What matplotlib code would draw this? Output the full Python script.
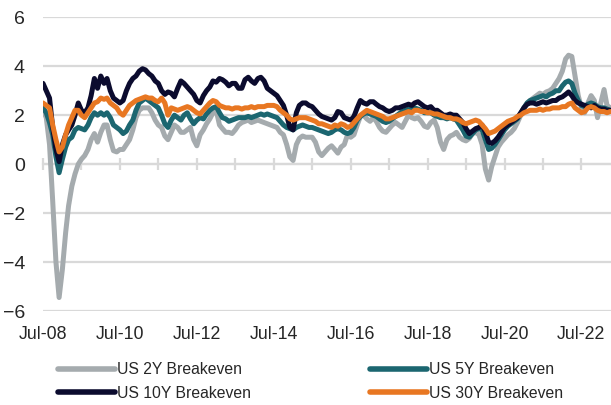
import matplotlib
matplotlib.use("Agg")
import matplotlib.dates as mdates
import matplotlib.pyplot as plt
import matplotlib.ticker as mticker
import numpy as np
import pandas as pd

# monthly readings, Jul-08 .. Apr-23 (one row per Jul..Jun year)
be_2y = [
    2.2, 1.9, 0.8, -1.5, -4.0, -5.45, -4.3, -2.8, -1.7, -0.9, -0.4, 0.0,
    0.2, 0.35, 0.6, 1.0, 1.25, 0.9, 1.3, 1.6, 1.6, 1.0, 0.55, 0.5,
    0.6, 0.6, 0.8, 1.0, 1.4, 1.9, 2.2, 2.3, 2.3, 2.3, 2.1, 1.8,
    1.6, 1.5, 1.15, 1.0, 1.3, 1.6, 1.5, 1.3, 1.3, 1.4, 1.5, 1.0,
    0.75, 1.2, 1.4, 1.65, 1.85, 2.1, 2.2, 1.6, 1.45, 1.3, 1.3, 1.25,
    1.4, 1.6, 1.7, 1.75, 1.8, 1.7, 1.75, 1.8, 1.75, 1.7, 1.65, 1.6,
    1.55, 1.5, 1.3, 1.2, 0.8, 0.3, 0.15, 0.8, 1.05, 1.15, 1.1, 1.1,
    1.1, 0.9, 0.5, 0.35, 0.5, 0.65, 0.75, 0.6, 0.45, 0.7, 0.8, 1.2,
    1.1, 1.2, 1.6, 1.95, 2.0, 1.85, 1.75, 1.9, 1.75, 1.5, 1.35, 1.3,
    1.45, 1.6, 1.7, 1.6, 1.5, 1.75, 2.0, 1.9, 1.85, 1.9, 1.75, 1.55,
    1.5, 1.7, 1.8, 1.5, 0.9, 0.6, 1.0, 1.15, 1.2, 1.3, 1.1, 1.0,
    0.95, 1.05, 1.25, 1.3, 1.2, 0.8, -0.2, -0.65, -0.1, 0.3, 0.7, 0.9,
    1.05, 1.2, 1.3, 1.45, 1.7, 2.0, 2.3, 2.5, 2.6, 2.7, 2.8, 2.9,
    2.85, 2.95, 3.0, 3.1, 3.3, 3.5, 3.8, 4.3, 4.45, 4.4, 3.6, 2.8,
    2.3, 2.1, 2.5, 2.8, 2.6, 1.9, 2.5, 3.05, 2.4, 2.3,
]
be_5y = [
    2.3, 2.1, 1.7, 1.2, 0.3, -0.35, 0.2, 0.7, 1.0, 1.1, 1.4, 1.5,
    1.45, 1.4, 1.6, 1.9, 2.1, 2.0, 2.1, 2.0, 2.1, 1.9, 1.6, 1.5,
    1.4, 1.25, 1.35, 1.6, 1.8, 2.2, 2.5, 2.6, 2.7, 2.6, 2.5, 2.4,
    2.3, 2.0, 1.65, 1.5, 1.8, 2.0, 1.9, 1.8, 2.0, 2.1, 1.85, 1.65,
    1.8, 1.9, 1.85, 2.05, 2.2, 2.3, 2.35, 2.1, 1.9, 1.85, 1.75, 1.8,
    1.85, 1.9, 1.9, 1.9, 1.95, 1.9, 1.95, 2.0, 2.05, 2.0, 2.05, 2.0,
    1.95, 1.9, 1.75, 1.6, 1.5, 1.45, 1.4, 1.5, 1.55, 1.6, 1.55, 1.5,
    1.5, 1.45, 1.4, 1.35, 1.3, 1.25, 1.3, 1.4, 1.45, 1.4, 1.3, 1.25,
    1.3, 1.5, 1.8, 1.95, 2.05, 2.1, 2.05, 2.0, 1.95, 1.85, 1.75, 1.7,
    1.75, 1.85, 1.95, 2.05, 2.15, 2.2, 2.25, 2.3, 2.3, 2.25, 2.2, 2.1,
    2.1, 2.1, 2.0, 1.95, 1.9, 1.9, 1.85, 1.9, 1.85, 1.8, 1.6, 1.4,
    1.15, 1.1, 1.25, 1.4, 1.45, 1.4, 1.0, 0.6, 0.65, 0.8, 1.0, 1.2,
    1.4, 1.55, 1.65, 1.75, 1.85, 2.05, 2.3, 2.5, 2.6, 2.65, 2.7, 2.75,
    2.8, 2.75, 2.85, 2.9, 3.0, 3.0, 3.2, 3.35, 3.4, 3.3, 2.9, 2.6,
    2.4, 2.35, 2.45, 2.5, 2.45, 2.35, 2.3, 2.3, 2.25, 2.2,
]
be_10y = [
    3.3, 3.0, 2.7, 1.5, 0.6, 0.1, 0.8, 1.2, 1.4, 1.6, 2.0, 2.5,
    2.2, 2.1, 2.3, 2.8, 3.5, 3.1, 3.6, 3.3, 3.5, 3.0, 2.7, 2.6,
    2.5, 2.6, 3.0, 3.3, 3.5, 3.6, 3.8, 3.9, 3.85, 3.7, 3.6, 3.4,
    3.3, 3.0, 2.85, 2.95, 2.9, 2.75, 3.1, 3.4, 3.3, 3.15, 3.0, 2.85,
    2.6, 2.5, 2.8, 3.0, 3.15, 3.4, 3.35, 3.5, 3.45, 3.35, 3.2, 3.3,
    3.3, 3.1, 3.1, 3.45, 3.55, 3.4, 3.3, 3.5, 3.55, 3.4, 3.1, 3.0,
    2.9, 2.8, 2.6, 2.4, 2.0, 1.5, 1.4, 2.1, 2.4, 2.5, 2.5, 2.4,
    2.35, 2.2, 2.05, 1.95, 1.9, 1.85, 1.8, 1.9, 2.15, 2.1, 1.9, 1.85,
    1.8, 1.95, 2.3, 2.6, 2.5, 2.45, 2.55, 2.55, 2.45, 2.35, 2.3, 2.2,
    2.15, 2.2, 2.3, 2.3, 2.35, 2.4, 2.45, 2.4, 2.5, 2.55, 2.45, 2.35,
    2.3, 2.35, 2.2, 2.2, 2.1, 2.0, 2.0, 2.05, 2.0, 2.0, 1.85, 1.7,
    1.45, 1.25, 1.35, 1.45, 1.5, 1.6, 1.3, 0.9, 0.85, 0.95, 1.1, 1.3,
    1.5, 1.6, 1.7, 1.8, 1.9, 2.1, 2.3, 2.45, 2.5, 2.5, 2.45, 2.5,
    2.55, 2.5, 2.55, 2.6, 2.6, 2.7, 2.75, 2.85, 2.95, 2.8, 2.6, 2.5,
    2.45, 2.4, 2.35, 2.3, 2.4, 2.3, 2.25, 2.25, 2.2, 2.2,
]
be_30y = [
    2.5, 2.4, 2.3, 1.6, 1.0, 0.5, 0.7, 1.2, 1.6, 1.9, 2.2, 2.2,
    2.0, 1.9, 2.1, 2.3, 2.5, 2.55, 2.7, 2.65, 2.7, 2.5, 2.4, 2.3,
    2.1, 2.0, 2.2, 2.4, 2.5, 2.6, 2.65, 2.7, 2.75, 2.7, 2.7, 2.6,
    2.55, 2.7, 2.5, 2.0, 2.3, 2.25, 2.2, 2.25, 2.3, 2.35, 2.3, 2.2,
    2.1, 2.05, 2.2, 2.35, 2.5, 2.6, 2.55, 2.4, 2.35, 2.3, 2.3, 2.25,
    2.3, 2.3, 2.25, 2.3, 2.3, 2.35, 2.3, 2.35, 2.35, 2.35, 2.4, 2.4,
    2.4, 2.35, 2.2, 2.1, 2.0, 1.85, 1.8, 1.85, 1.9, 1.9, 1.9, 1.85,
    1.8, 1.75, 1.65, 1.65, 1.6, 1.55, 1.5, 1.6, 1.55, 1.65, 1.6, 1.5,
    1.55, 1.7, 1.85, 2.0, 2.1, 2.2, 2.15, 2.1, 2.05, 2.0, 1.95, 1.85,
    1.85, 1.9, 1.95, 2.0, 2.05, 2.1, 2.15, 2.1, 2.2, 2.2, 2.15, 2.15,
    2.1, 2.1, 2.05, 2.05, 2.0, 1.95, 1.9, 1.9, 1.85, 1.85, 1.8, 1.7,
    1.65, 1.7, 1.75, 1.8, 1.75, 1.6, 1.45, 1.25, 1.3, 1.35, 1.45, 1.55,
    1.65, 1.75, 1.8, 1.85, 1.95, 2.0, 2.1, 2.15, 2.2, 2.2, 2.2, 2.25,
    2.2, 2.25, 2.25, 2.3, 2.3, 2.3, 2.35, 2.35, 2.45, 2.5, 2.3, 2.2,
    2.1, 2.15, 2.3, 2.35, 2.3, 2.2, 2.15, 2.15, 2.1, 2.15,
]
dates = pd.date_range("2008-07-01", periods=len(be_2y), freq="MS")
year_ticks = dates[::12]
label_ticks = dates[::24]
label_text = [d.strftime("%b-%y") for d in label_ticks]

series = [
    ("US 2Y Breakeven", be_2y, "#a5abae"),
    ("US 5Y Breakeven", be_5y, "#1b6670"),
    ("US 10Y Breakeven", be_10y, "#0b0b2e"),
    ("US 30Y Breakeven", be_30y, "#e87722"),
]

fig = plt.figure(figsize=(6.11, 4.05), dpi=100)
ax = fig.add_axes([43 / 611, 1 - 311 / 405, 1 - 43 / 611, (311 - 17.3) / 405])

handles = {}
for name, vals, color in series:
    (ln,) = ax.plot(dates, vals, color=color, linewidth=3.6, solid_capstyle="round",
                    solid_joinstyle="round", zorder=3)
    handles[name] = ln

grid_c = "#d9d9d9"
ax.set_ylim(-6, 6)
ax.set_yticks([-6, -4, -2, 0, 2, 4, 6])
ax.set_xlim(pd.Timestamp("2008-07-01"), pd.Timestamp("2023-04-08"))
ax.grid(axis="y", color=grid_c, linewidth=1.6, zorder=0)
for side in ["top", "right", "left"]:
    ax.spines[side].set_visible(False)
ax.spines["bottom"].set_position(("data", 0))
ax.spines["bottom"].set_color(grid_c)
ax.spines["bottom"].set_linewidth(1.6)
ax.spines["bottom"].set_zorder(0)

# yearly tick marks on the zero line, labels every two years at the bottom
ax.set_xticks(year_ticks)
ax.tick_params(axis="x", direction="inout", length=8, width=1.6, color=grid_c,
               labelbottom=False)
ax.tick_params(axis="y", length=0, pad=13, labelsize=14, labelcolor="#262626")
for lbl in ax.get_yticklabels():
    lbl.set_fontfamily("Liberation Sans")

sec = ax.secondary_xaxis("bottom")
sec.set_xticks(label_ticks)
sec.set_xticklabels(label_text, fontfamily="Liberation Sans")
sec.spines["bottom"].set_visible(False)
sec.tick_params(axis="x", length=0, pad=11, labelsize=12.8, labelcolor="#262626")

order = ["US 2Y Breakeven", "US 10Y Breakeven", "US 5Y Breakeven", "US 30Y Breakeven"]
leg = fig.legend(
    [handles[n] for n in order], order,
    loc="upper left", bbox_to_anchor=(58 / 611, 1 - 362 / 405),
    ncol=2, frameon=False, borderpad=0, borderaxespad=0,
    handlelength=3.6, handletextpad=0.15, columnspacing=7.6, labelspacing=0.55,
    prop={"family": "Liberation Sans", "size": 11.3},
)
for ln in leg.get_lines():
    ln.set_linewidth(4)
for t in leg.get_texts():
    t.set_color("#262626")

fig.savefig("out.png", dpi=100)
